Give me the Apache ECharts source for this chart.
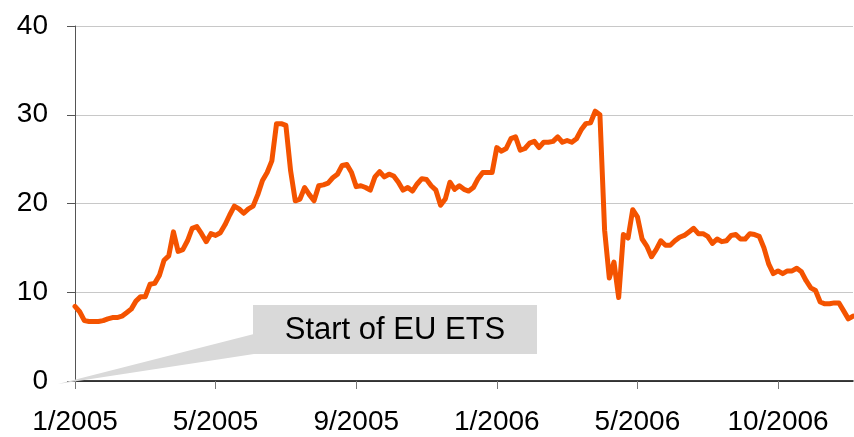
<!DOCTYPE html>
<html>
<head>
<meta charset="utf-8">
<title>EU ETS allowance price</title>
<script src="https://cdn.jsdelivr.net/npm/echarts@6/dist/echarts.min.js"></script>
<style>
  html, body { margin: 0; padding: 0; background: #fff; }
  #chart { width: 854px; height: 437px; }
</style>
</head>
<body>
<div id="chart"></div>
<script>
// axis labels, one every 30 points
const tickLabels = ['1/2005', '5/2005', '9/2005', '1/2006', '5/2006', '10/2006']
const pointsPerTick = 30

// price
const prices = [
  8.4, 7.8, 6.8, 6.7, 6.7, 6.7, 6.8, 7.0, 7.15, 7.15,
  7.3, 7.7, 8.1, 9.0, 9.5, 9.5, 10.9, 11.0, 11.9, 13.6,
  14.1, 16.8, 14.6, 14.8, 15.8, 17.2, 17.4, 16.6, 15.7, 16.6,
  16.4, 16.7, 17.6, 18.7, 19.7, 19.4, 18.9, 19.4, 19.7, 21.0,
  22.6, 23.5, 24.8, 29.0, 29.0, 28.8, 23.7, 20.3, 20.5, 21.8,
  21.0, 20.3, 22.0, 22.1, 22.3, 22.9, 23.3, 24.3, 24.4, 23.5,
  21.9, 22.0, 21.8, 21.5, 23.0, 23.6, 23.0, 23.3, 23.1, 22.4,
  21.5, 21.8, 21.4, 22.2, 22.8, 22.7, 22.0, 21.5, 19.8, 20.5,
  22.4, 21.6, 22.0, 21.6, 21.4, 21.8, 22.8, 23.5, 23.5, 23.5,
  26.3, 25.9, 26.2, 27.3, 27.5, 26.0, 26.2, 26.8, 27.0, 26.3,
  26.9, 26.9, 27.0, 27.5, 26.9, 27.1, 26.9, 27.3, 28.3, 29.0,
  29.1, 30.4, 30.0, 17.0, 11.6, 13.4, 9.4, 16.5, 16.1, 19.3,
  18.5, 16.0, 15.2, 14.0, 14.8, 15.8, 15.3, 15.3, 15.8, 16.2,
  16.4, 16.8, 17.2, 16.6, 16.6, 16.3, 15.5, 16.0, 15.7, 15.8,
  16.4, 16.5, 16.0, 16.0, 16.6, 16.5, 16.3, 15.0, 13.2, 12.1,
  12.4, 12.1, 12.4, 12.4, 12.7, 12.3, 11.3, 10.5, 10.2, 8.9,
  8.7, 8.7, 8.8, 8.8, 7.9, 7.0, 7.3
]

const categories = prices.map((v, i) => 'd' + i)

const chart = echarts.init(document.getElementById('chart'))
const font = 'Liberation Sans, Arial, sans-serif'

chart.setOption({
  animation: false,
  grid: {
    left: 75,
    right: 1,
    top: 26,
    bottom: 56,
    containLabel: false
  },
  xAxis: {
    type: 'category',
    data: categories,
    boundaryGap: false,
    axisLine: { lineStyle: { color: '#000', width: 1.5 } },
    axisTick: {
      show: true,
      interval: pointsPerTick - 1,
      length: 8,
      lineStyle: { color: '#777' }
    },
    axisLabel: {
      interval: pointsPerTick - 1,
      margin: 27,
      color: '#000',
      fontFamily: font,
      fontSize: 28,
      formatter: (v, i) => tickLabels[i / pointsPerTick] || ''
    },
    splitLine: { show: false }
  },
  yAxis: {
    type: 'value',
    min: 0,
    max: 40,
    interval: 10,
    axisLine: { show: true, lineStyle: { color: '#555', width: 1 } },
    axisTick: { show: true, length: 8, lineStyle: { color: '#555' } },
    axisLabel: {
      margin: 27,
      color: '#000',
      fontFamily: font,
      fontSize: 28
    },
    splitLine: { lineStyle: { color: '#c8c8c8', width: 1 } }
  },
  series: [{
    type: 'line',
    data: prices,
    symbol: 'none',
    lineStyle: { color: '#F45300', width: 5, join: 'round', cap: 'round' },
    z: 3
  }],
  graphic: [
    {
      type: 'polygon',
      shape: { points: [[58, 384], [254, 334], [254, 354]] },
      style: { fill: '#d9d9d9' },
      z: 1
    },
    {
      type: 'rect',
      shape: { x: 253, y: 305, width: 284, height: 49 },
      style: { fill: '#d9d9d9' },
      z: 1
    },
    {
      type: 'text',
      x: 395,
      y: 330,
      style: {
        text: 'Start of EU ETS',
        fill: '#000',
        font: '31px ' + font,
        align: 'center',
        verticalAlign: 'middle'
      },
      z: 2
    }
  ]
})
</script>
</body>
</html>
